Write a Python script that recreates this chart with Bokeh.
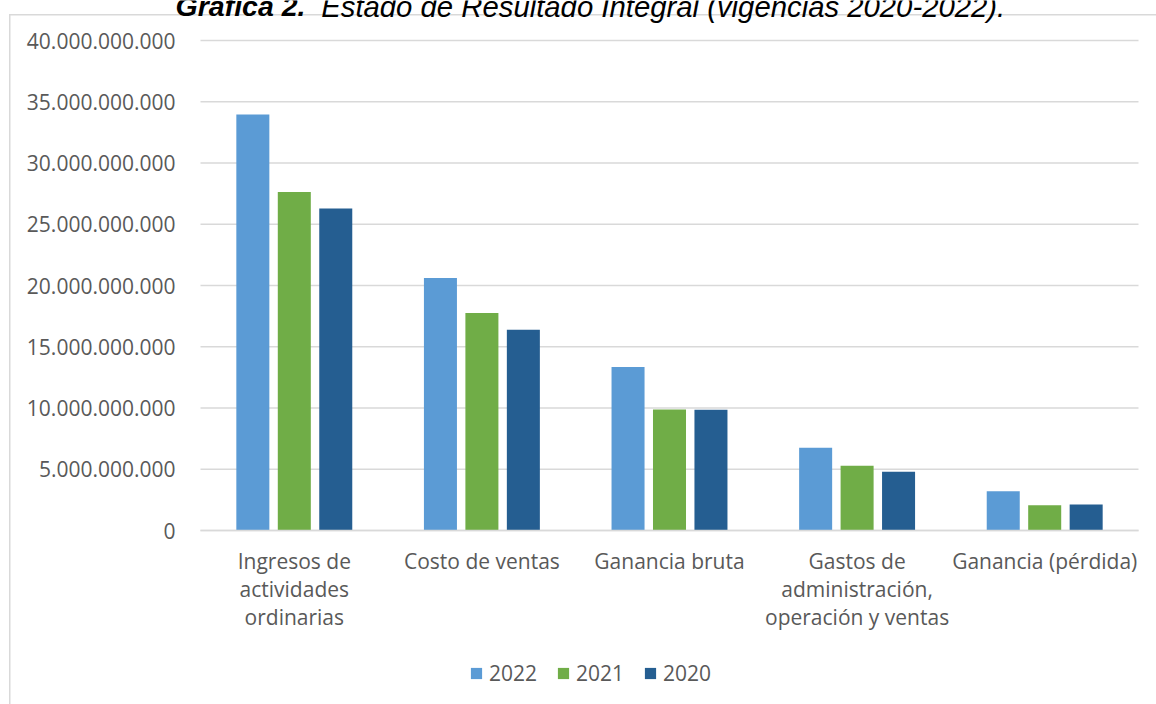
from bokeh.plotting import figure
from bokeh.models import (Range1d, FixedTicker, CustomJSTickFormatter,
                          Legend, LegendItem, Label)
from bokeh.embed import file_html
from bokeh.resources import INLINE

# ---- data ----
categories = ["Ingresos de\nactividades\nordinarias", "Costo de ventas", "Ganancia bruta",
              "Gastos de\nadministración,\noperación y ventas", "Ganancia (pérdida)"]
years = ["2022", "2021", "2020"]
v2022 = [33.96e9, 20.61e9, 13.34e9, 6.75e9, 3.21e9]
v2021 = [27.64e9, 17.75e9, 9.88e9, 5.28e9, 2.07e9]
v2020 = [26.28e9, 16.39e9, 9.86e9, 4.79e9, 2.12e9]
y_ticks = [0, 5e9, 10e9, 15e9, 20e9, 25e9, 30e9, 35e9, 40e9]
title_bold = "Gráfica 2."
title_rest = "Estado de Resultado Integral (vigencias 2020-2022)."

colors = ["#5B9BD5", "#70AD47", "#255E91"]
FONT = "Open Sans"
FS = "21px"
TXT = "#595959"
GRID = "#D9D9D9"

# ---- layout (pixels) ----
W, H = 1156, 704
TOP, AXIS_Y, LEFT, RIGHT = 40, 530, 200, 1138   # plot area
n = len(categories)
cat_px = (RIGHT - LEFT) / n
y_max = y_ticks[-1]
px_per_val = (AXIS_Y - TOP) / y_max
# the frame covers the whole canvas so that title, labels and legend are never clipped
x_rng = Range1d(-LEFT / cat_px, n + (W - RIGHT) / cat_px)
y_rng = Range1d(-(H - AXIS_Y) / px_per_val, y_max + TOP / px_per_val)

centers = [i + 0.5 for i in range(n)]
bw = 0.176
off = 0.221
data = dict(x22=[c - off for c in centers], x21=centers, x20=[c + off for c in centers],
            y2022=v2022, y2021=v2021, y2020=v2020)

p = figure(width=W, height=H, output_backend="svg", toolbar_location=None,
           x_range=x_rng, y_range=y_rng,
           min_border_left=0, min_border_right=0, min_border_top=0, min_border_bottom=0)
p.outline_line_color = None
p.background_fill_color = None
p.border_fill_color = None
# light-grey chart-area border (left and top edges, as visible in the reference)
p.styles = {"background":
            "linear-gradient(#D9D9D9,#D9D9D9) 9px 14px / 1.5px 100% no-repeat, "
            "linear-gradient(#D9D9D9,#D9D9D9) 9px 14px / 100% 1.5px no-repeat, white"}

# horizontal gridlines across the plot area only
p.xgrid.grid_line_color = None
p.ygrid.grid_line_color = None
p.segment(x0=0, x1=n, y0=y_ticks, y1=y_ticks, line_color=GRID, line_width=1.3)

r1 = p.vbar(x="x22", top="y2022", width=bw, source=data, color=colors[0], line_color=None)
r2 = p.vbar(x="x21", top="y2021", width=bw, source=data, color=colors[1], line_color=None)
r3 = p.vbar(x="x20", top="y2020", width=bw, source=data, color=colors[2], line_color=None)

# y axis pinned at the left edge of the plot area
p.yaxis.fixed_location = 0
p.yaxis.ticker = FixedTicker(ticks=y_ticks)
p.yaxis.formatter = CustomJSTickFormatter(
    code="return Math.round(tick).toString().replace(/\\B(?=(\\d{3})+(?!\\d))/g, '.');")
p.yaxis.axis_line_color = None
p.yaxis.major_tick_line_color = None
p.yaxis.minor_tick_line_color = None
p.yaxis.major_label_standoff = 19
p.yaxis.major_label_text_font = FONT
p.yaxis.major_label_text_font_size = FS
p.yaxis.major_label_text_color = TXT

# x axis pinned at y = 0, category names as tick labels
p.xaxis.fixed_location = 0
p.xaxis.bounds = (0, n)
p.xaxis.ticker = FixedTicker(ticks=centers)
p.xaxis.formatter = CustomJSTickFormatter(args=dict(labels=categories),
                                          code="return labels[Math.floor(tick)];")
p.xaxis.axis_line_color = GRID
p.xaxis.axis_line_width = 1.3
p.xaxis.major_tick_line_color = None
p.xaxis.minor_tick_line_color = None
p.xaxis.major_label_standoff = 10
p.xaxis.major_label_text_font = FONT
p.xaxis.major_label_text_font_size = FS
p.xaxis.major_label_text_color = TXT
p.xaxis.major_label_text_line_height = 1.0
p.xaxis.major_label_orientation = "horizontal"

# legend
legend = Legend(items=[LegendItem(label=years[0], renderers=[r1]),
                       LegendItem(label=years[1], renderers=[r2]),
                       LegendItem(label=years[2], renderers=[r3])],
                orientation="horizontal", location=(469, 17.5),
                glyph_width=14, glyph_height=14, label_standoff=6, spacing=19,
                padding=0, margin=0, border_line_color=None, background_fill_alpha=0,
                label_text_font=FONT, label_text_font_size=FS, label_text_color=TXT,
                label_height=20)
p.add_layout(legend)

# title (mostly cut off at the top of the page, as in the reference)
TY = H - 5.5
p.add_layout(Label(x=305, y=TY, x_units="screen", y_units="screen", text=title_bold,
                   text_align="right", text_baseline="alphabetic",
                   text_font="Liberation Sans", text_font_size="28.5px",
                   text_font_style="bold italic", text_color="black"))
p.add_layout(Label(x=320.7, y=TY, x_units="screen", y_units="screen", text=title_rest,
                   text_align="left", text_baseline="alphabetic",
                   text_font="Liberation Sans", text_font_size="29.3px",
                   text_font_style="italic", text_color="black"))

open("out.html", "w").write(file_html(p, INLINE))
